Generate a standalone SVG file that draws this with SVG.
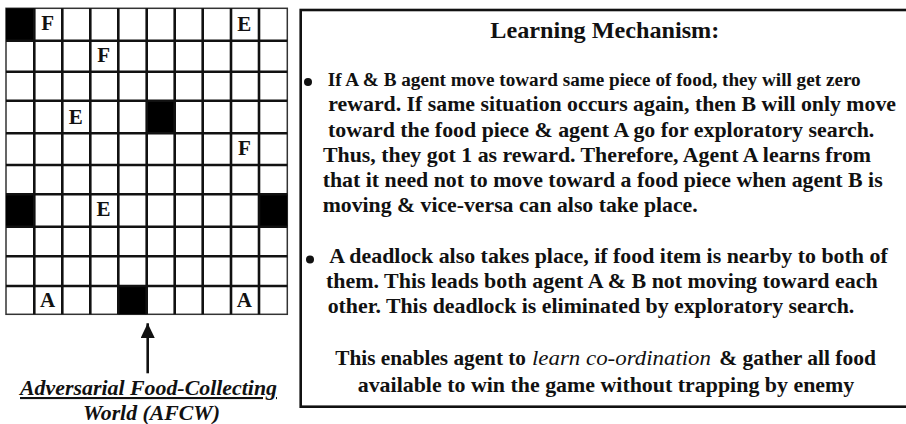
<svg xmlns="http://www.w3.org/2000/svg" width="906" height="424" viewBox="0 0 906 424">
<style>
text{font-family:"Times New Roman","Liberation Serif",Tinos,"Nimbus Roman","DejaVu Serif","Noto Serif",serif;fill:#111;}
.b{font-weight:bold;}
.cell{font-weight:bold;font-size:21px;text-anchor:middle;}
.gl{stroke:#111;stroke-width:2.6;}
.blk{fill:#000;}
.body{font-weight:bold;font-size:21px;}
</style>
<defs>
<marker id="ah" markerUnits="userSpaceOnUse" markerWidth="16" markerHeight="16" refX="15" refY="7.2" orient="auto">
<path d="M0,0 L15,7.2 L0,14.4 Z" fill="#111"/>
</marker>
</defs>
<g id="grid">
<rect x="6" y="8.3" width="281.3" height="306" fill="#fff" stroke="#333" stroke-width="1.5"/>
<rect class="blk" x="6" y="8.3" width="28.3" height="32.4"/>
<rect class="blk" x="146.7" y="100.7" width="28" height="32.6"/>
<rect class="blk" x="6" y="194.3" width="28.3" height="32.4"/>
<rect class="blk" x="259" y="194.3" width="28.3" height="32.4"/>
<rect class="blk" x="118.3" y="286" width="28.4" height="28.3"/>
<g class="gl">
<line x1="34.3" y1="8.3" x2="34.3" y2="314.3"/>
<line x1="62.3" y1="8.3" x2="62.3" y2="314.3"/>
<line x1="90.3" y1="8.3" x2="90.3" y2="314.3"/>
<line x1="118.3" y1="8.3" x2="118.3" y2="314.3"/>
<line x1="146.7" y1="8.3" x2="146.7" y2="314.3"/>
<line x1="174.7" y1="8.3" x2="174.7" y2="314.3"/>
<line x1="202.7" y1="8.3" x2="202.7" y2="314.3"/>
<line x1="231" y1="8.3" x2="231" y2="314.3"/>
<line x1="259" y1="8.3" x2="259" y2="314.3"/>
<line x1="6" y1="40.7" x2="287.3" y2="40.7"/>
<line x1="6" y1="71.7" x2="287.3" y2="71.7"/>
<line x1="6" y1="100.7" x2="287.3" y2="100.7"/>
<line x1="6" y1="133.3" x2="287.3" y2="133.3"/>
<line x1="6" y1="165" x2="287.3" y2="165"/>
<line x1="6" y1="194.3" x2="287.3" y2="194.3"/>
<line x1="6" y1="226.7" x2="287.3" y2="226.7"/>
<line x1="6" y1="256.3" x2="287.3" y2="256.3"/>
<line x1="6" y1="286" x2="287.3" y2="286"/>
</g>
<text class="cell" x="47.6" y="30">F</text>
<text class="cell" x="244.3" y="30.5">E</text>
<text class="cell" x="103.6" y="61.8">F</text>
<text class="cell" x="75.8" y="124">E</text>
<text class="cell" x="244.3" y="155">F</text>
<text class="cell" x="103.6" y="216">E</text>
<text class="cell" x="47.6" y="306.7">A</text>
<text class="cell" x="244.3" y="306.7">A</text>
</g>
<g id="connectors">
<line x1="147.7" y1="373.3" x2="147.7" y2="323.3" stroke="#111" stroke-width="2.6" marker-end="url(#ah)"/>
</g>
<g id="caption">
<text class="b" x="20" y="395" font-size="21" font-style="italic" text-decoration="underline" textLength="257" lengthAdjust="spacingAndGlyphs">Adversarial Food-Collecting</text>
<text class="b" x="83" y="419.5" font-size="21" font-style="italic" textLength="137" lengthAdjust="spacingAndGlyphs">World (AFCW)</text>
</g>
<g id="mechanism">
<rect x="300.7" y="10" width="612" height="396.7" fill="none" stroke="#111" stroke-width="2.6"/>
<text class="b" x="490.3" y="37.7" font-size="24" textLength="229" lengthAdjust="spacingAndGlyphs">Learning Mechanism:</text>
<circle cx="308" cy="82" r="4" fill="#111"/>
<text class="b" x="327.7" y="86" font-size="18" textLength="533" lengthAdjust="spacingAndGlyphs">If A &amp; B agent move toward same piece of food, they will get zero</text>
<text class="body" x="328.3" y="111" textLength="567.7" lengthAdjust="spacingAndGlyphs">reward. If same situation occurs again, then B will only move</text>
<text class="body" x="328" y="136.5" textLength="546.3" lengthAdjust="spacingAndGlyphs">toward the food piece &amp; agent A go for exploratory search.</text>
<text class="body" x="323" y="162" textLength="548" lengthAdjust="spacingAndGlyphs">Thus, they got 1 as reward. Therefore, Agent A learns from</text>
<text class="body" x="322.7" y="187.3" textLength="560" lengthAdjust="spacingAndGlyphs">that it need not to move toward a food piece when agent B is</text>
<text class="body" x="322.7" y="212" textLength="375" lengthAdjust="spacingAndGlyphs">moving &amp; vice-versa can also take place.</text>
<circle cx="310" cy="259.5" r="4" fill="#111"/>
<text class="body" x="329.3" y="263.3" textLength="558.4" lengthAdjust="spacingAndGlyphs">A deadlock also takes place, if food item is nearby to both of</text>
<text class="body" x="326" y="288.3" textLength="551.7" lengthAdjust="spacingAndGlyphs">them. This leads both agent A &amp; B not moving toward each</text>
<text class="body" x="327.7" y="313.3" textLength="526.6" lengthAdjust="spacingAndGlyphs">other. This deadlock is eliminated by exploratory search.</text>
<text class="body" x="335.3" y="365" textLength="190.7" lengthAdjust="spacingAndGlyphs">This enables agent to</text>
<text x="532" y="365" font-size="21" font-style="italic" textLength="179" lengthAdjust="spacingAndGlyphs">learn co-ordination</text>
<text class="body" x="719.3" y="365" textLength="156.7" lengthAdjust="spacingAndGlyphs">&amp; gather all food</text>
<text class="body" x="357.7" y="391.7" textLength="496.6" lengthAdjust="spacingAndGlyphs">available to win the game without trapping by enemy</text>
</g>
</svg>
